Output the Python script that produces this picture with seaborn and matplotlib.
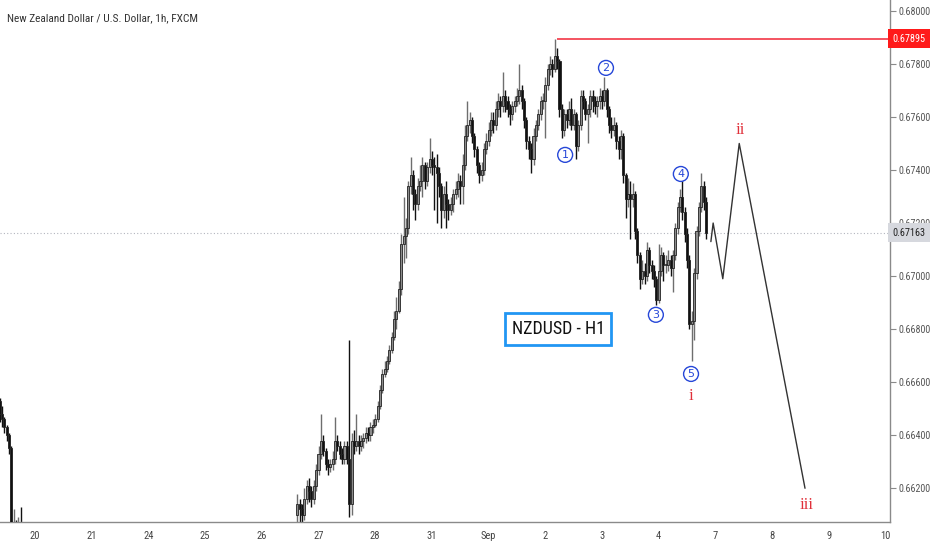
import numpy as np
import matplotlib.pyplot as plt
import matplotlib.transforms as mtransforms
from matplotlib import font_manager
import seaborn as sns
import pandas as pd

# trading days shown on the x axis (index = day position)
day_labels = ['19', '20', '21', '24', '25', '26', '27', '28', '31', 'Sep',
              '2', '3', '4', '7', '8', '9', '10']

# hourly candles, first visible stretch (Aug 19, from 09:00)
seg1_day, seg1_hour, seg1_open = 0, 9, 0.6653
seg1_close = [0.6648, 0.6646, 0.6643, 0.6640, 0.6635, 0.6598, 0.6600, 0.6599, 0.6602, 0.6600]
seg1_high = [0.6654, 0.6651, 0.6647, 0.6644, 0.6641, 0.6636, 0.6612, 0.6608, 0.6609, 0.6613]
seg1_low = [0.6645, 0.6643, 0.6641, 0.6638, 0.6633, 0.6590, 0.6594, 0.6595, 0.6597, 0.6596]

# second stretch (Aug 26 15:00 -> Sep 7 20:00)
seg2_day, seg2_hour, seg2_open = 5, 15, 0.6610
seg2_close = [
    0.6614, 0.6612, 0.6610, 0.6616, 0.6621, 0.6619, 0.6616, 0.6621, 0.6627, 0.6633,
    0.6638, 0.6634, 0.6629, 0.6628, 0.6629, 0.6631, 0.6638, 0.6636, 0.6633, 0.6631,
    0.6636, 0.6631, 0.6614, 0.6638, 0.6636, 0.6638, 0.6636, 0.6638, 0.6639, 0.6641,
    0.6640, 0.6643, 0.6644, 0.6646, 0.6651, 0.6657, 0.6663, 0.6665, 0.6668, 0.6672,
    0.6677, 0.6684, 0.6687, 0.6695, 0.6712, 0.6715, 0.6718, 0.6734, 0.6738, 0.6731,
    0.6727, 0.6734, 0.6736, 0.6742, 0.6736, 0.6741, 0.6744, 0.6742, 0.6741, 0.6739,
    0.6734, 0.6725, 0.6731, 0.6727, 0.6725, 0.6727, 0.6731, 0.6733, 0.6736, 0.6734,
    0.6742, 0.6753, 0.6757, 0.6759, 0.6753, 0.6748, 0.6742, 0.6738, 0.6740, 0.6748,
    0.6751, 0.6755, 0.6759, 0.6757, 0.6763, 0.6766, 0.6764, 0.6768, 0.6766, 0.6763,
    0.6761, 0.6764, 0.6766, 0.6768, 0.6770, 0.6766, 0.6759, 0.6751, 0.6748, 0.6744,
    0.6753, 0.6757, 0.6761, 0.6766, 0.6766, 0.6772, 0.6778, 0.6780, 0.6778, 0.6783,
    0.6781, 0.6763, 0.6755, 0.6761, 0.6759, 0.6763, 0.6757, 0.6761, 0.6749, 0.6757,
    0.6768, 0.6766, 0.6761, 0.6763, 0.6768, 0.6766, 0.6764, 0.6766, 0.6768, 0.6766,
    0.6770, 0.6763, 0.6757, 0.6755, 0.6757, 0.6751, 0.6748, 0.6753, 0.6738, 0.6729,
    0.6731, 0.6729, 0.6731, 0.6717, 0.6708, 0.6699, 0.6702, 0.6700, 0.6710, 0.6704,
    0.6702, 0.6699, 0.6691, 0.6702, 0.6708, 0.6704, 0.6704, 0.6706, 0.6703, 0.6708,
    0.6718, 0.6726, 0.6730, 0.6724, 0.6716, 0.6706, 0.6682, 0.6683, 0.6701, 0.6717,
    0.6726, 0.6734, 0.6728, 0.67163]
seg2_high = [
    0.6618, 0.6616, 0.6614, 0.6620, 0.6623, 0.6624, 0.6621, 0.6623, 0.6629, 0.6636,
    0.6648, 0.6640, 0.6635, 0.6631, 0.6631, 0.6634, 0.6647, 0.6640, 0.6638, 0.6635,
    0.6638, 0.6638, 0.6676, 0.6641, 0.6642, 0.6648, 0.6640, 0.6640, 0.6641, 0.6643,
    0.6643, 0.6645, 0.6646, 0.6648, 0.6653, 0.6659, 0.6665, 0.6668, 0.6670, 0.6674,
    0.6679, 0.6687, 0.6692, 0.6698, 0.6716, 0.6730, 0.6722, 0.6736, 0.6745, 0.6740,
    0.6733, 0.6737, 0.6742, 0.6745, 0.6743, 0.6743, 0.6752, 0.6747, 0.6745, 0.6746,
    0.6741, 0.6735, 0.6734, 0.6736, 0.6729, 0.6730, 0.6733, 0.6736, 0.6739, 0.6738,
    0.6746, 0.6757, 0.6766, 0.6762, 0.6760, 0.6754, 0.6749, 0.6743, 0.6743, 0.6750,
    0.6754, 0.6758, 0.6762, 0.6762, 0.6766, 0.6769, 0.6768, 0.6777, 0.6770, 0.6768,
    0.6765, 0.6766, 0.6768, 0.6771, 0.6780, 0.6772, 0.6767, 0.6760, 0.6753, 0.6750,
    0.6756, 0.6759, 0.6763, 0.6768, 0.6769, 0.6775, 0.6780, 0.6783, 0.6782, 0.67895,
    0.6786, 0.6782, 0.6765, 0.6763, 0.6763, 0.6766, 0.6767, 0.6763, 0.6762, 0.6759,
    0.6770, 0.6770, 0.6767, 0.6765, 0.6770, 0.6770, 0.6768, 0.6768, 0.6771, 0.6770,
    0.6775, 0.6771, 0.6764, 0.6760, 0.6760, 0.6758, 0.6753, 0.6755, 0.6754, 0.6739,
    0.6737, 0.6736, 0.6735, 0.6732, 0.6718, 0.6709, 0.6706, 0.6705, 0.6713, 0.6711,
    0.6706, 0.6704, 0.6700, 0.6712, 0.6711, 0.6709, 0.6708, 0.6710, 0.6708, 0.6710,
    0.6720, 0.6728, 0.6733, 0.6737, 0.6726, 0.6718, 0.6708, 0.6687, 0.6703, 0.6719,
    0.6728, 0.6739, 0.6736, 0.6730]
seg2_low = [
    0.6606, 0.6607, 0.6606, 0.6608, 0.6614, 0.6615, 0.6613, 0.6614, 0.6619, 0.6625,
    0.6631, 0.6632, 0.6627, 0.6625, 0.6626, 0.6627, 0.6629, 0.6634, 0.6631, 0.6629,
    0.6629, 0.6629, 0.6609, 0.6610, 0.6633, 0.6634, 0.6633, 0.6634, 0.6635, 0.6637,
    0.6638, 0.6638, 0.6641, 0.6643, 0.6645, 0.6650, 0.6656, 0.6662, 0.6664, 0.6667,
    0.6671, 0.6676, 0.6680, 0.6686, 0.6693, 0.6705, 0.6707, 0.6716, 0.6731, 0.6725,
    0.6721, 0.6725, 0.6732, 0.6730, 0.6733, 0.6734, 0.6739, 0.6738, 0.6725, 0.6720,
    0.6730, 0.6718, 0.6722, 0.6718, 0.6721, 0.6723, 0.6724, 0.6729, 0.6730, 0.6727,
    0.6727, 0.6740, 0.6751, 0.6754, 0.6750, 0.6745, 0.6739, 0.6735, 0.6736, 0.6738,
    0.6746, 0.6749, 0.6753, 0.6754, 0.6755, 0.6760, 0.6760, 0.6762, 0.6762, 0.6760,
    0.6757, 0.6759, 0.6762, 0.6764, 0.6765, 0.6763, 0.6756, 0.6748, 0.6744, 0.6739,
    0.6742, 0.6751, 0.6755, 0.6759, 0.6763, 0.6752, 0.6770, 0.6776, 0.6775, 0.6777,
    0.6778, 0.6760, 0.6752, 0.6753, 0.6756, 0.6757, 0.6755, 0.6755, 0.6744, 0.6747,
    0.6755, 0.6763, 0.6759, 0.6750, 0.6760, 0.6762, 0.6761, 0.6760, 0.6763, 0.6763,
    0.6764, 0.6760, 0.6754, 0.6752, 0.6753, 0.6748, 0.6744, 0.6744, 0.6735, 0.6722,
    0.6726, 0.6714, 0.6726, 0.6714, 0.6705, 0.6695, 0.6697, 0.6697, 0.6698, 0.6701,
    0.6699, 0.6696, 0.6689, 0.6690, 0.6700, 0.6698, 0.6701, 0.6702, 0.6700, 0.6694,
    0.6706, 0.6716, 0.6724, 0.6721, 0.6713, 0.6703, 0.6680, 0.6668, 0.6676, 0.6699,
    0.6715, 0.6724, 0.6725, 0.6714]

# projected wave path (day position, price)
proj_t = [12.92, 12.96, 13.13, 13.42, 14.58]
proj_p = [0.6713, 0.6720, 0.6699, 0.6750, 0.6620]

high_level = 0.67895
high_start = 10.206
last_price = 0.67163

wave_nums = ['1', '2', '3', '4', '5']
wave_t = [10.35, 11.07, 11.95, 12.39, 12.57]
wave_p = [0.67457, 0.67785, 0.66854, 0.67385, 0.66631]
roman = ['i', 'ii', 'iii']
roman_t = [12.57, 13.43, 14.60]
roman_p = [0.66548, 0.67551, 0.66137]


def candles(day, hour, first_open, close, high, low):
    df = pd.DataFrame({'close': close, 'high': high, 'low': low})
    df['open'] = [first_open] + list(close[:-1])
    df['t'] = day + (hour + np.arange(len(df))) / 24
    return df


df = pd.concat([candles(seg1_day, seg1_hour, seg1_open, seg1_close, seg1_high, seg1_low),
                candles(seg2_day, seg2_hour, seg2_open, seg2_close, seg2_high, seg2_low)],
               ignore_index=True)

# pick a narrow sans face if one is around
installed = {f.name for f in font_manager.fontManager.ttflist}
narrow = next((n for n in ['Liberation Sans Narrow', 'DejaVu Sans Condensed', 'Roboto Condensed']
               if n in installed), None)
if narrow:
    base, fs = narrow, 1.0
else:
    base, fs = 'Liberation Sans', 0.86

sns.set_style('white')
plt.rcParams['font.family'] = [base, 'DejaVu Sans']

fig = plt.figure(figsize=(9.32, 5.5), dpi=100)
ax = fig.add_axes([0, 0.0515, 890 / 932, 0.9485])
xmin, xmax = 0.3827, 16.079
ax.set_xlim(xmin, xmax)
ax.set_ylim(0.66074, 0.68041)

up = df.close >= df.open
for mask, face, wick in [(up, '#8c8c8c', '#6e6e6e'), (~up, '#111111', '#111111')]:
    d = df[mask]
    ax.vlines(d.t, d.low, d.high, color=wick, lw=1, zorder=2)
    body = (d.close - d.open).abs().clip(lower=0.00004)
    ax.bar(d.t, body, bottom=d[['open', 'close']].min(axis=1), width=0.036,
           color=face, edgecolor='#222222', linewidth=0.6, zorder=3)

# projection path
sns.lineplot(x=proj_t, y=proj_p, sort=False, estimator=None, color='#333333',
             lw=1, ax=ax, zorder=4)

# horizontal levels
ax.hlines(high_level, high_start, xmax, color='#f23645', lw=1.2, zorder=4)
ax.axhline(last_price, color='#b2b5be', lw=0.8, ls=(0, (1, 2)), zorder=1)

# wave counts
for s, t, p in zip(wave_nums, wave_t, wave_p):
    ax.text(t, p, s, ha='center', va='center', fontsize=8, color='#2647d8',
            family=['DejaVu Sans'], zorder=6,
            bbox=dict(boxstyle='circle,pad=0.22', fc='white', ec='#2647d8', lw=1))
for s, t, p in zip(roman, roman_t, roman_p):
    ax.text(t, p, s, ha='center', va='center', fontsize=12, color='#e0303a',
            family=['Liberation Serif', 'DejaVu Serif'], zorder=6)

ax.text(10.224, 0.66801, 'NZDUSD - H1', ha='center', va='center', fontsize=13 * fs,
        color='#111111', zorder=6,
        bbox=dict(boxstyle='square,pad=0.38', fc='white', ec='#2196f3', lw=2))

ax.text(0.008, 0.9655, 'New Zealand Dollar / U.S. Dollar, 1h, FXCM', transform=ax.transAxes,
        ha='left', va='center', fontsize=8.2 * fs, color='#333333')

# axes styling
for side in ['left', 'top']:
    ax.spines[side].set_visible(False)
for side in ['right', 'bottom']:
    ax.spines[side].set_color('#8a8a8a')
    ax.spines[side].set_linewidth(1)

ax.yaxis.tick_right()
yt = np.arange(0.662, 0.6801, 0.002)
ax.set_yticks(yt)
ax.set_yticklabels([f'{v:.5f}' for v in yt])
ax.set_xticks(range(1, len(day_labels)))
ax.set_xticklabels(day_labels[1:])
ax.tick_params(axis='y', direction='out', length=4, width=0.8, color='#8a8a8a',
               labelcolor='#555555', labelsize=7.2 * fs, pad=2)
ax.tick_params(axis='x', direction='out', length=4, width=0.8, color='#8a8a8a',
               labelcolor='#444444', labelsize=7.6 * fs, pad=3)
ax.grid(False)

# price labels on the axis
trans = mtransforms.blended_transform_factory(ax.transAxes, ax.transData)
ax.text(1.003, high_level, f'{high_level:.5f}', transform=trans, ha='left', va='center',
        fontsize=7.4 * fs, color='white', zorder=7,
        bbox=dict(boxstyle='square,pad=0.45', fc='#ff1a1a', ec='none'))
ax.text(1.003, last_price, f'{last_price:.5f}', transform=trans, ha='left', va='center',
        fontsize=7.4 * fs, color='#222222', zorder=7,
        bbox=dict(boxstyle='square,pad=0.45', fc='#d6d8de', ec='none'))

fig.savefig('out.png', dpi=100, facecolor='white')
